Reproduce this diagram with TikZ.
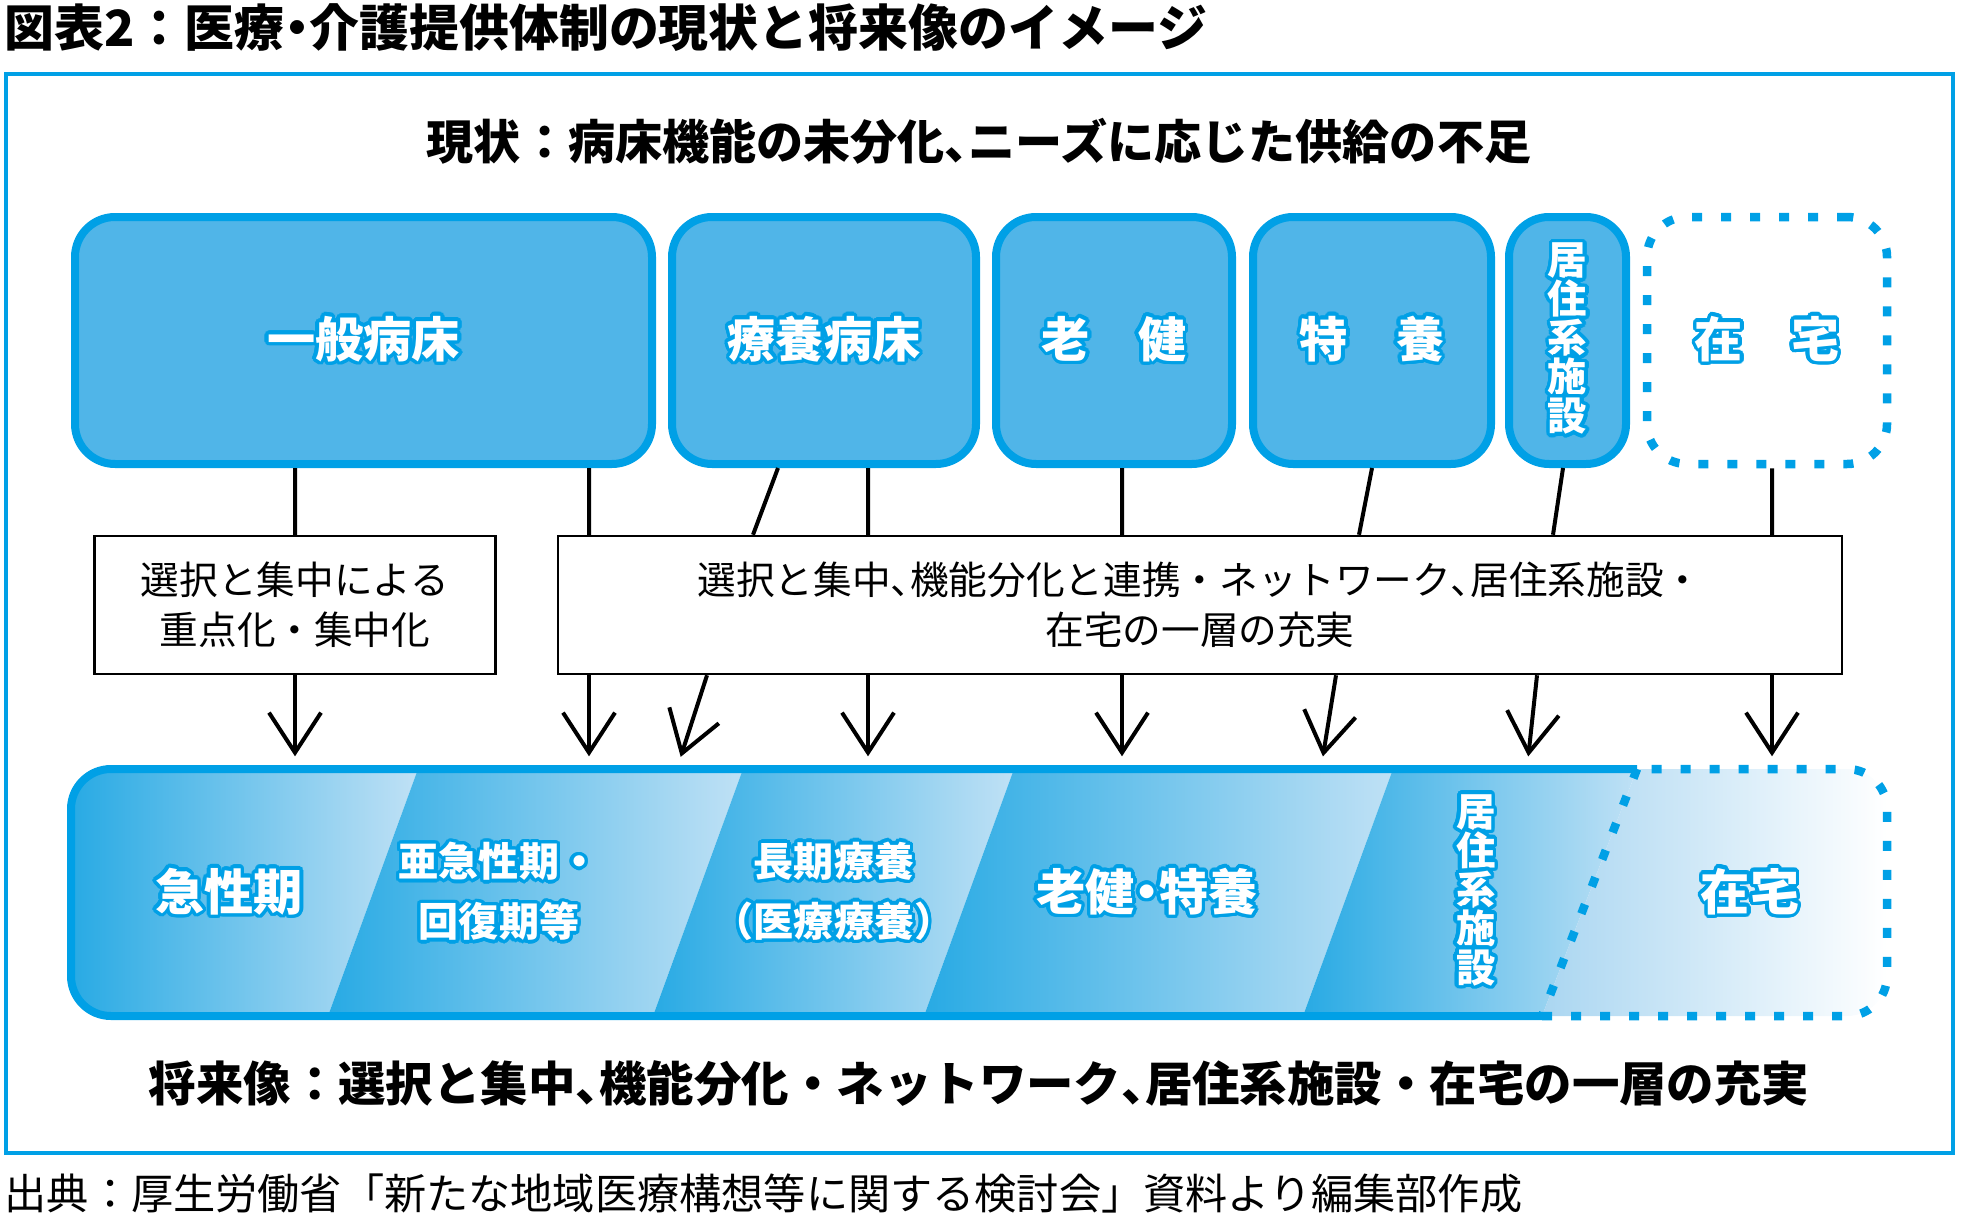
\documentclass[tikz,border=0pt]{standalone}
\usepackage{fontspec}
\setmainfont{Noto Sans CJK JP}
\usepackage{contour}
\contourlength{0.35mm}
\contournumber{24}
\usetikzlibrary{arrows.meta}
\definecolor{cyanline}{RGB}{0,160,230}
\definecolor{cyanfill}{RGB}{80,181,232}
\definecolor{bandA}{RGB}{40,170,228}
\definecolor{bandB}{RGB}{192,225,245}
\definecolor{homeA}{RGB}{170,214,241}
\newcommand{\halo}[1]{\contour{cyanline}{#1}}
\newcommand{\nar}[1]{{\addfontfeatures{RawFeature=+palt}#1}}

\begin{document}
\begin{tikzpicture}[x=0.1mm,y=-0.1mm,>={Straight Barb[length=4mm,width=5.2mm]},
  topbox/.style={draw=cyanline,fill=cyanfill,line width=0.8mm,rounded corners=4mm,
    minimum height=24.7mm,inner sep=0,text=white,font=\bfseries\fontsize{13.7}{16}\selectfont},
  dashbox/.style={draw=cyanline,line width=0.85mm,rounded corners=4mm,dash pattern=on 1mm off 1.9mm,
    minimum height=24.7mm,inner sep=0,text=white,font=\bfseries\fontsize{13.7}{16}\selectfont},
  vtext/.style={align=center,font={\bfseries\fontsize{11.2}{11.1}\selectfont\lineskiplimit=-20pt\lineskip=0pt}},
  midbox/.style={draw,line width=0.25mm,minimum height=13.8mm,align=center,
    font=\fontsize{11}{14.2}\selectfont},
  bandtxt/.style={text=white,align=center,font=\bfseries\fontsize{14}{17}\selectfont},
  smalltxt/.style={text=white,align=center,font=\bfseries\fontsize{11.4}{17.1}\selectfont},
  dashline/.style={draw=cyanline,line width=0.85mm,dash pattern=on 1mm off 1.9mm},
  conn/.style={line width=0.4mm}]
\useasboundingbox (0,0) rectangle (1962,1220);
\node[anchor=west,inner sep=0,font=\bfseries\fontsize{14.2}{16}\selectfont] (title) at (4,28)
  {図表2：医療\nar{・}介護提供体制の現状と将来像のイメージ};
\draw[cyanline,line width=0.35mm] (6,74) rectangle (1953,1153);
\node[font=\bfseries\fontsize{13.4}{16}\selectfont] (now) at (979,141)
  {現状：病床機能の未分化\nar{、}ニーズに応じた供給の不足};
%
\node[topbox,minimum width=57.7mm] (ippan) at (363.5,340.5) {\halo{一般病床}};
\node[topbox,minimum width=30.4mm] (ryoyo) at (824,340.5) {\halo{療養病床}};
\node[topbox,minimum width=23.6mm] (roken) at (1114,340.5) {\halo{老　健}};
\node[topbox,minimum width=23.8mm] (tokuyo) at (1372,340.5) {\halo{特　養}};
\node[topbox,vtext,minimum width=11.7mm] (kyoju) at (1567.5,340.5)
  {\halo{居}\\\halo{住}\\\halo{系}\\\halo{施}\\\halo{設}};
\node[dashbox,minimum width=24mm] (zaitaku) at (1767,340.5) {\halo{在　宅}};
%
\node[midbox,minimum width=40.1mm] (selA) at (295,605) {選択と集中による\\重点化・集中化};
\node[midbox,minimum width=128.4mm] (selB) at (1200,605)
  {選択と集中\nar{、}機能分化と連携・ネットワーク\nar{、}居住系施設・\\在宅の一層の充実};
%%
\node[minimum width=181.6mm,minimum height=24.7mm,inner sep=0] (band) at (979,892.5) {};
\begin{scope}
\clip[rounded corners=4mm] (71,769) rectangle (1887,1016);
\shade[left color=bandA,right color=bandB] (71,769) -- (418,769) -- (328,1016) -- (71,1016) -- cycle;
\shade[left color=bandA,right color=bandB] (418,769) -- (743,769) -- (653,1016) -- (328,1016) -- cycle;
\shade[left color=bandA,right color=bandB] (743,769) -- (1014,769) -- (924,1016) -- (653,1016) -- cycle;
\shade[left color=bandA,right color=bandB] (1014,769) -- (1393,769) -- (1303,1016) -- (924,1016) -- cycle;
\shade[left color=bandA,right color=bandB] (1393,769) -- (1637,769) -- (1542,1016) -- (1303,1016) -- cycle;
\shade[left color=homeA,middle color=white,right color=white] (1637,769) -- (1887,769) -- (1887,1016) -- (1542,1016) -- cycle;
\end{scope}
\draw[cyanline,line width=0.8mm,rounded corners=4mm] (1637,769) -- (71,769) -- (71,1016) -- (1542,1016);
\draw[dashline,rounded corners=4mm] (1542,1016) -- (1887,1016) -- (1887,769) -- (1637,769);
\draw[dashline] (1637,769) -- (1542,1016);
%
\node[bandtxt] (acute) at (229,893) {\halo{急性期}};
\node[smalltxt] (subacute) at (499,893) {\halo{亜急性期・}\\\halo{回復期等}};
\node[smalltxt] (longterm) at (834,893) {\halo{長期療養}\\\halo{（医療療養）}};
\node[bandtxt] (rokentoku) at (1147,893) {\halo{老健\nar{・}特養}};
\node[bandtxt,vtext] (kyoju2) at (1476,892) {\halo{居}\\\halo{住}\\\halo{系}\\\halo{施}\\\halo{設}};
\node[bandtxt] (home) at (1750,893) {\halo{在宅}};
%
\node[font=\bfseries\fontsize{13.5}{16}\selectfont] (future) at (979,1084)
  {将来像：選択と集中\nar{、}機能分化・ネットワーク\nar{、}居住系施設・在宅の一層の充実};
\node[anchor=west,inner sep=0,font=\fontsize{12}{14}\selectfont] (source) at (4,1193)
  {出典：厚生労働省「新たな地域医療構想等に関する検討会」資料より編集部作成};
%%
\foreach \n/\x in {p1/295,p2/589,p3/778,p4/753,p5/707,p6/677,p7/868,p8/1122,p9/1372,
  p10/1359,p11/1336,p12/1321,p13/1563,p14/1553,p15/1537,p16/1527,p17/1772}
  \coordinate (\n) at (\x,0);
\draw[conn] (ippan.south -| p1) -- (selA.north -| p1)  (ippan.south -| p2) -- (selB.north -| p2)
  (ryoyo.south -| p3) -- (selB.north -| p4)  (ryoyo.south -| p7) -- (selB.north -| p7)
  (roken.south -| p8) -- (selB.north -| p8)  (tokuyo.south -| p9) -- (selB.north -| p10)
  (kyoju.south -| p13) -- (selB.north -| p14)  (zaitaku.south -| p17) -- (selB.north -| p17);
\draw[conn,->,shorten >=1.2mm] (selA.south -| p1) -- (band.north -| p1);
\draw[conn,->,shorten >=1.2mm] (selB.south -| p2) -- (band.north -| p2);
\draw[conn,->,shorten >=1.2mm] (selB.south -| p5) -- (band.north -| p6);
\draw[conn,->,shorten >=1.2mm] (selB.south -| p7) -- (band.north -| p7);
\draw[conn,->,shorten >=1.2mm] (selB.south -| p8) -- (band.north -| p8);
\draw[conn,->,shorten >=1.2mm] (selB.south -| p11) -- (band.north -| p12);
\draw[conn,->,shorten >=1.2mm] (selB.south -| p15) -- (band.north -| p16);
\draw[conn,->,shorten >=1.2mm] (selB.south -| p17) -- (band.north -| p17);
\end{tikzpicture}
\end{document}
